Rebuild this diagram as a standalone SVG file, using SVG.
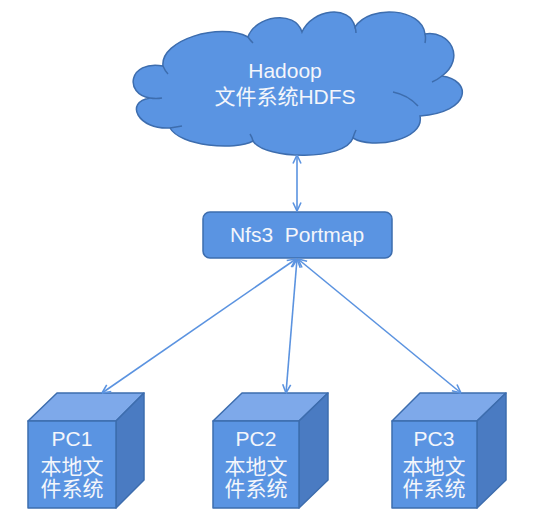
<svg xmlns="http://www.w3.org/2000/svg" width="538" height="529" viewBox="0 0 538 529">
<style>
text{font-family:"Liberation Sans","Noto Sans CJK SC",sans-serif;fill:#F4F6FB;font-size:21px;text-anchor:middle}
.edge{stroke:#5B93E0;stroke-width:1.6;fill:none;marker-start:url(#ah);marker-end:url(#ah)}
.front{fill:#5A94E2;stroke:#3D6DAE;stroke-width:1.5;stroke-linejoin:round}
.top{fill:#7EA9EA;stroke:#3D6DAE;stroke-width:1.5;stroke-linejoin:round}
.side{fill:#4A7BC2;stroke:#3D6DAE;stroke-width:1.5;stroke-linejoin:round}
.inner{fill:none;stroke:#3D6DAE;stroke-width:1.5}
</style>
<defs>
<marker id="ah" viewBox="0 0 10 10" refX="9.5" refY="5" markerWidth="10" markerHeight="10" markerUnits="userSpaceOnUse" orient="auto-start-reverse">
<path d="M1,1 L9.5,5 L1,9" fill="none" stroke="#5B93E0" stroke-width="1.6"/>
</marker>
</defs>
<rect width="538" height="529" fill="#fff"/>
<g id="hdfs">
<path d="M163,66 C160,40 220,22 248,37 C255,16 295,9 302,32 C312,9 350,4 355,27 C370,4 422,8 425,34 C450,30 466,58 442,76 C472,80 472,112 420,116 C425,140 372,150 353,138 C345,161 265,160 253,141 C235,151 180,146 170,128 C138,130 124,102 150,98 C124,94 128,60 163,66 Z" fill="#5A94E2" stroke="#3D6DAE" stroke-width="1.5"/>
<path class="inner" d="M163,66 Q165,71 168,74 M248,37 Q250,40 253,43 M355,27 Q356,30 356,33 M425,34 Q426,38 425,43 M442,76 Q437,80 432,82 M393,92 Q408,95 418,106 M353,138 Q354,134 356,130 M253,141 Q252,137 250,134 M170,128 Q176,127 182,126 M150,98 Q156,99 162,98"/>
<text x="285" y="78">Hadoop</text>
<text x="285" y="104">文件系统HDFS</text>
</g>
<g id="nfs">
<rect x="203" y="212" width="189" height="46" rx="7" fill="#5A94E2" stroke="#3D6DAE" stroke-width="1.5"/>
<text x="297" y="242" xml:space="preserve">Nfs3  Portmap</text>
</g>
<g id="pc1">
<polygon class="top" points="28,421 57,393 144,393 116,421"/>
<polygon class="side" points="116,421 144,393 144,480 116,508"/>
<rect class="front" x="28" y="421" width="88" height="87"/>
<text x="72" y="446">PC1</text>
<text x="72" y="474">本地文</text>
<text x="72" y="496">件系统</text>
</g>
<g id="pc2">
<polygon class="top" points="213,421 242,393 328,393 299,421"/>
<polygon class="side" points="299,421 328,393 328,480 299,508"/>
<rect class="front" x="213" y="421" width="86" height="87"/>
<text x="256" y="446">PC2</text>
<text x="256" y="474">本地文</text>
<text x="256" y="496">件系统</text>
</g>
<g id="pc3">
<polygon class="top" points="392,421 420,393 506,393 477,421"/>
<polygon class="side" points="477,421 506,393 506,480 477,508"/>
<rect class="front" x="392" y="421" width="85" height="87"/>
<text x="434" y="446">PC3</text>
<text x="434" y="474">本地文</text>
<text x="434" y="496">件系统</text>
</g>
<g id="connectors">
<line class="edge" x1="297" y1="155" x2="297" y2="211"/>
<line class="edge" x1="296" y1="259" x2="102" y2="393"/>
<line class="edge" x1="297" y1="259" x2="286" y2="393"/>
<line class="edge" x1="298" y1="259" x2="461" y2="393"/>
</g>
</svg>
